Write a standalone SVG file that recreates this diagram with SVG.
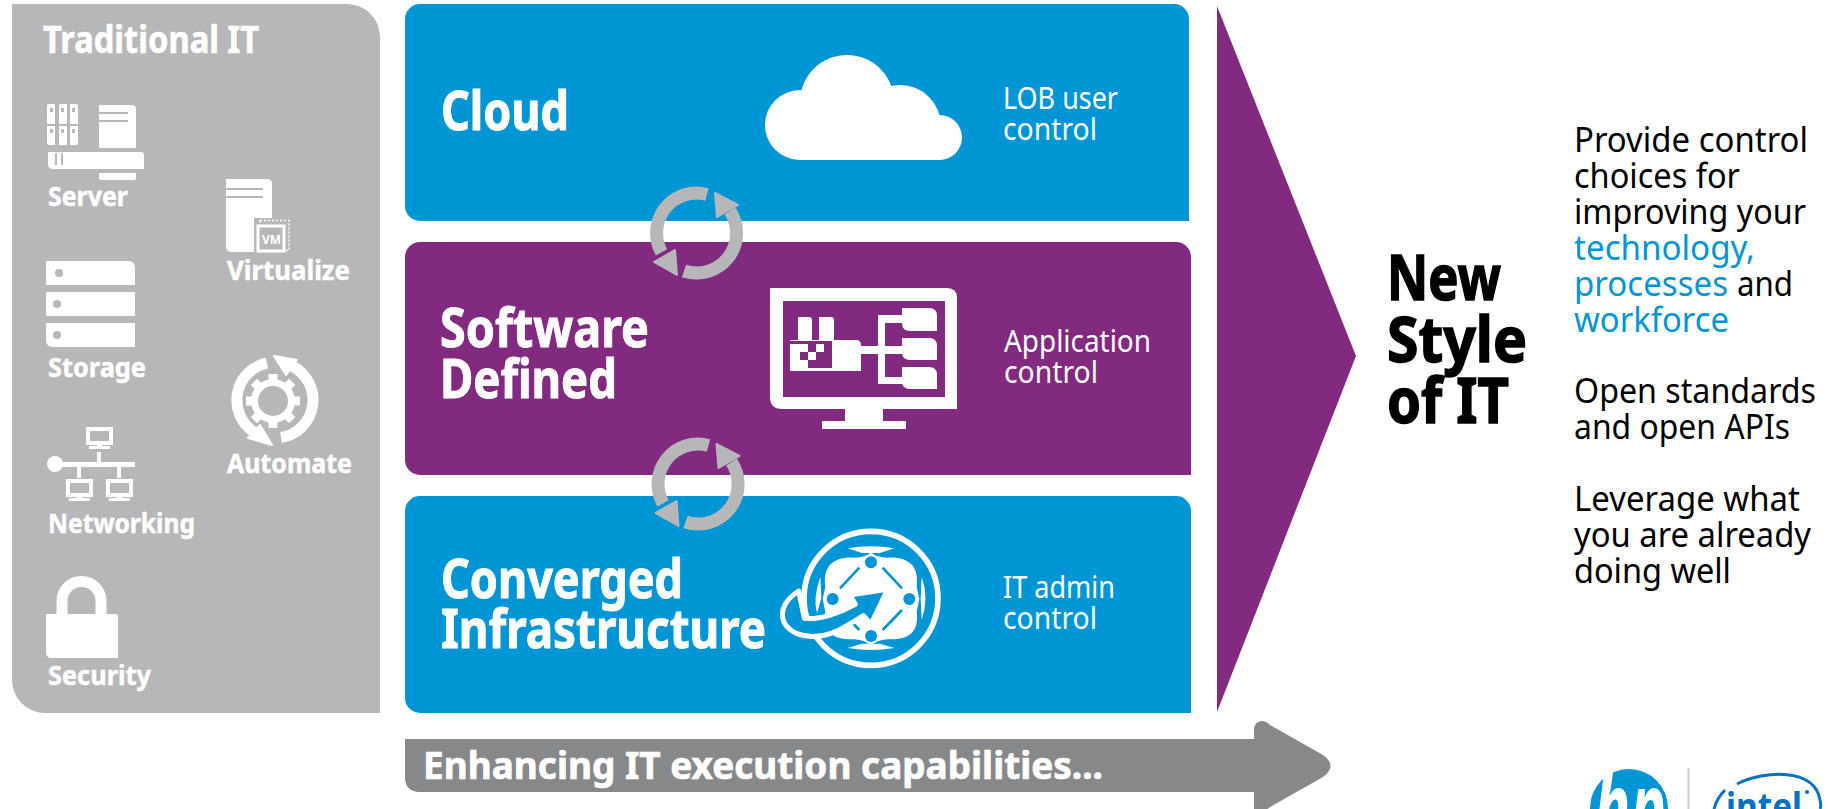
<svg xmlns="http://www.w3.org/2000/svg" xmlns:xlink="http://www.w3.org/1999/xlink" width="1828" height="809" viewBox="0 0 1828 809">
<style>
text{font-family:"Noto Sans","Open Sans","Liberation Sans",sans-serif}
.w{fill:#fff}.g{fill:#b7b7b9}.p{fill:#822980}.b{fill:#0096d6}
.lab{fill:#fff;font-weight:700;font-size:27px;stroke:#fff;stroke-width:.5}
.big{fill:#fff;font-weight:700;font-size:53px;stroke:#fff;stroke-width:1}
.ctl{fill:#fff;font-size:31px}
.ns{fill:#000;font-weight:700;font-size:62px;stroke:#000;stroke-width:1.500}
.rt{fill:#000;font-size:35px}
.bt{fill:#0096d6}
.ref{fill:none;stroke:#b7b7b9;stroke-width:13}
</style>
<defs>
<clipPath id="cloudclip"><rect x="760" y="50" width="210" height="110"/></clipPath>
<g id="mon">
<rect x="2" y="2" width="23" height="14" fill="none" stroke="#fff" stroke-width="4"/>
<rect x="11" y="16" width="5" height="3" fill="#fff"/>
<rect x="3" y="19" width="21" height="3" fill="#fff"/>
</g>
<g id="refresh">
<path class="ref" d="M707 194.400A40 40 0 0 0 661.500 252.300"/>
<path class="ref" d="M684 271A40 40 0 0 0 730 211"/>
<path class="g" d="M654 262 675 250 677 275Z" stroke="#b7b7b9" stroke-width="2" stroke-linejoin="round"/>
<path class="g" d="M715 193 738 205 717 217Z" stroke="#b7b7b9" stroke-width="2" stroke-linejoin="round"/>
</g>
</defs>

<g id="traditional-it">
<path class="g" d="M12 4H347A33 33 0 0 1 380 37V713H45A33 33 0 0 1 12 680Z"/>
<text class="w" x="43" y="53" font-size="37" font-weight="700" stroke="#fff" stroke-width=".6" textLength="216" lengthAdjust="spacingAndGlyphs">Traditional IT</text>
</g>

<g id="server">
<rect class="w" x="47" y="104" width="31" height="41" rx="2"/>
<path class="g" d="M55 104h4v41h-4zM67 104h3v41h-3zM47 124h31v2H47zM50 108h3v4h-3zM61 108h3v4h-3zM72 108h3v4h-3zM50 129h3v4h-3zM61 129h3v4h-3zM72 129h3v4h-3z"/>
<path class="w" d="M99 105H132Q136 105 136 109V148H99Z"/>
<path class="g" d="M99 112h29v2H99zM99 120h29v2H99z"/>
<path class="w" d="M48 152H141Q144 152 144 155V169H53Q48 169 48 164Z"/>
<path class="g" d="M55 153h2v12h-2zM61 153h2v12h-2z"/>
<path class="w" d="M99 173H136V178Q136 180 134 180H101Q99 180 99 178Z"/>
<text class="lab" x="48" y="206" textLength="80" lengthAdjust="spacingAndGlyphs">Server</text>
</g>

<g id="virtualize">
<path class="w" d="M226 179H267Q272 179 272 184V252H232Q226 252 226 246Z"/>
<path class="g" d="M226 188h37v2H226zM226 196h37v2H226z"/>
<rect class="g" x="254" y="218" width="38" height="35"/>
<rect x="260" y="220.500" width="29" height="30" fill="none" stroke="#fff" stroke-width="1.500" stroke-dasharray="2 2"/>
<rect x="258" y="226" width="26" height="25" class="g" stroke="#fff" stroke-width="3"/>
<text class="w" x="262" y="244" font-size="13" font-weight="700" textLength="19" lengthAdjust="spacingAndGlyphs">VM</text>
<text class="lab" x="227" y="280" textLength="123" lengthAdjust="spacingAndGlyphs">Virtualize</text>
</g>

<g id="storage">
<path class="w" d="M46 261H128Q135 261 135 268V285H46Z"/>
<rect class="w" x="46" y="292" width="89" height="24"/>
<path class="w" d="M46 323H135V347H53Q46 347 46 340Z"/>
<circle class="g" cx="59" cy="273" r="4"/><circle class="g" cx="57" cy="304" r="4"/><circle class="g" cx="57" cy="335" r="4"/>
<text class="lab" x="48" y="377" textLength="98" lengthAdjust="spacingAndGlyphs">Storage</text>
</g>

<g id="automate">
<circle class="w" cx="273" cy="401" r="22"/>
<g class="w">
<rect x="268.500" y="374" width="9" height="54"/>
<rect x="268.500" y="374" width="9" height="54" transform="rotate(45 273 401)"/>
<rect x="268.500" y="374" width="9" height="54" transform="rotate(90 273 401)"/>
<rect x="268.500" y="374" width="9" height="54" transform="rotate(135 273 401)"/>
</g>
<circle class="g" cx="273" cy="401" r="15"/>
<path fill="none" stroke="#fff" stroke-width="11" d="M267 363A38 38 0 0 0 254 432"/>
<path fill="none" stroke="#fff" stroke-width="11" d="M281 437.500A38 38 0 0 0 292 366"/>
<path class="w" d="M248 438 272 445 260 425Z" stroke="#fff" stroke-width="2" stroke-linejoin="round"/>
<path class="w" d="M274 356 297 360 286 375Z" stroke="#fff" stroke-width="2" stroke-linejoin="round"/>
<text class="lab" x="227" y="473" textLength="125" lengthAdjust="spacingAndGlyphs">Automate</text>
</g>

<g id="networking">
<use xlink:href="#mon" href="#mon" x="86" y="427"/>
<use xlink:href="#mon" href="#mon" x="66" y="479"/>
<use xlink:href="#mon" href="#mon" x="106" y="479"/>
<circle class="w" cx="55" cy="464" r="8"/>
<path class="w" d="M55 462H135V467H55zM97 452h4v10h-4zM77 467h4v11h-4zM117 467h4v11h-4z"/>
<text class="lab" x="48" y="533" textLength="147" lengthAdjust="spacingAndGlyphs">Networking</text>
</g>

<g id="security">
<path fill="none" stroke="#fff" stroke-width="11" d="M62 616V601A19.500 19.500 0 0 1 101 601V616"/>
<path class="w" d="M46 614H115Q118 614 118 617V658H52Q46 658 46 652Z"/>
<text class="lab" x="48" y="685" textLength="103" lengthAdjust="spacingAndGlyphs">Security</text>
</g>

<g id="cloud-layer">
<path class="b" d="M420 4H1174A15 15 0 0 1 1189 19V221H420A15 15 0 0 1 405 206V19A15 15 0 0 1 420 4Z"/>
<g clip-path="url(#cloudclip)">
<circle class="w" cx="847" cy="102" r="47"/><circle class="w" cx="800" cy="125" r="35"/><circle class="w" cx="900" cy="126" r="41"/><circle class="w" cx="939.500" cy="137.500" r="22.500"/>
<rect class="w" x="800" y="120" width="140" height="40"/>
</g>
<text class="big" x="441" y="130" textLength="128" lengthAdjust="spacingAndGlyphs">Cloud</text>
<text class="ctl" x="1003" y="109" textLength="115" lengthAdjust="spacingAndGlyphs">LOB user</text>
<text class="ctl" x="1003" y="140" textLength="94" lengthAdjust="spacingAndGlyphs">control</text>
</g>

<g id="software-defined-layer">
<path class="p" d="M420 242H1176A15 15 0 0 1 1191 257V475H420A15 15 0 0 1 405 460V257A15 15 0 0 1 420 242Z"/>
<path class="w" d="M770 288H947Q957 288 957 298V409H782Q770 409 770 397Z"/>
<rect class="w" x="845" y="408" width="38" height="14"/><rect class="w" x="822" y="421" width="84" height="8"/>
<rect class="p" x="783" y="301" width="162" height="96"/>
<path class="w" d="M798 317H809Q812 317 812 320V340H819V317H831Q834 317 834 320V340H856Q861 340 861 345V371H790V340H798Z"/>
<path class="p" d="M790 341h42v3H790zM808 344h8v8h-8zM800 352h8v8h-8zM824 344h8v8h-8zM816 352h16v8h-16zM808 360h24v8h-24z"/>
<path class="w" d="M861 346H878V315H905V323H885V346H905V354H885V377H905V384H878V354H861Z"/>
<path class="w" d="M902 308H929Q937 308 937 316V331H910Q902 331 902 323ZM902 338H929Q937 338 937 346V360H910Q902 360 902 352ZM902 367H929Q937 367 937 375V389H910Q902 389 902 381Z"/>
<text class="big" x="440" y="347" textLength="209" lengthAdjust="spacingAndGlyphs">Software</text>
<text class="big" x="440" y="398" textLength="177" lengthAdjust="spacingAndGlyphs">Defined</text>
<text class="ctl" x="1004" y="352" textLength="147" lengthAdjust="spacingAndGlyphs">Application</text>
<text class="ctl" x="1004" y="383" textLength="94" lengthAdjust="spacingAndGlyphs">control</text>
</g>

<g id="converged-layer">
<path class="b" d="M420 496H1176A15 15 0 0 1 1191 511V713H420A15 15 0 0 1 405 698V511A15 15 0 0 1 420 496Z"/>
<g transform="translate(776 525) scale(.3333)">
<circle cx="285" cy="220" r="201" fill="none" stroke="#fff" stroke-width="17"/>
<path class="w" d="M285 82Q300 98 335 98C400 95 430 125 422 185L430 222 422 260C430 320 400 345 335 343Q300 345 285 363Q270 345 235 343C170 345 140 320 148 260L140 222 148 185C140 125 170 95 235 98Q270 98 285 82Z"/>
<path class="w" d="M215 70Q285 58 355 70L312 84H258ZM215 369Q285 381 355 369L312 356H258ZM133 155Q110 220 123 265L136 220ZM437 155Q460 220 437 285L434 220Z"/>
<path fill="none" stroke="#0096d6" stroke-width="8" d="M192 190 250 128M320 128 378 190M378 255 320 315M250 315 192 255"/>
<g fill="#0096d6"><circle cx="285" cy="112" r="18"/><circle cx="170" cy="222" r="18"/><circle cx="400" cy="222" r="18"/><circle cx="285" cy="333" r="18"/></g>
<path fill="#0096d6" stroke="#fff" stroke-width="15" stroke-linejoin="round" d="M68 198C15 232 8 275 33 305 65 342 132 340 178 320 210 305 240 285 262 272L285 297 335 193 222 210 238 238C190 265 130 285 85 280Z"/>
</g>
<text class="big" x="441" y="598" textLength="242" lengthAdjust="spacingAndGlyphs">Converged</text>
<text class="big" x="441" y="648" textLength="325" lengthAdjust="spacingAndGlyphs">Infrastructure</text>
<text class="ctl" x="1003" y="598" textLength="112" lengthAdjust="spacingAndGlyphs">IT admin</text>
<text class="ctl" x="1003" y="629" textLength="94" lengthAdjust="spacingAndGlyphs">control</text>
</g>

<g id="connectors">
<use xlink:href="#refresh" href="#refresh"/>
<use xlink:href="#refresh" href="#refresh" x="1.500" y="251"/>
</g>

<g id="new-style">
<path class="p" d="M1217 6 1356 356 1217 712Z"/>
<text class="ns" x="1387" y="300" textLength="114" lengthAdjust="spacingAndGlyphs">New</text>
<text class="ns" x="1387" y="362" textLength="140" lengthAdjust="spacingAndGlyphs">Style</text>
<text class="ns" x="1387" y="423" textLength="122" lengthAdjust="spacingAndGlyphs">of IT</text>
</g>

<g id="capabilities-arrow">
<path fill="#87888a" d="M405 739H1254V731Q1254 721 1262 721 1266 721 1270 725L1323 755C1333 762 1333 770 1323 777L1270 807Q1266 811 1262 811H1254V792H420Q405 792 405 777Z"/>
<text class="w" x="423" y="779" font-size="38" font-weight="700" stroke="#fff" stroke-width=".7" textLength="680" lengthAdjust="spacingAndGlyphs">Enhancing IT execution capabilities...</text>
</g>

<g id="benefits">
<text class="rt" x="1574" y="152" textLength="234" lengthAdjust="spacingAndGlyphs">Provide control</text>
<text class="rt" x="1574" y="188" textLength="166" lengthAdjust="spacingAndGlyphs">choices for</text>
<text class="rt" x="1574" y="224" textLength="232" lengthAdjust="spacingAndGlyphs">improving your</text>
<text class="rt bt" x="1574" y="260" textLength="181" lengthAdjust="spacingAndGlyphs">technology,</text>
<text class="rt bt" x="1574" y="296" textLength="154" lengthAdjust="spacingAndGlyphs">processes</text>
<text class="rt" x="1737" y="296" textLength="56" lengthAdjust="spacingAndGlyphs">and</text>
<text class="rt bt" x="1574" y="332" textLength="155" lengthAdjust="spacingAndGlyphs">workforce</text>
<text class="rt" x="1574" y="403" textLength="242" lengthAdjust="spacingAndGlyphs">Open standards</text>
<text class="rt" x="1574" y="439" textLength="216" lengthAdjust="spacingAndGlyphs">and open APIs</text>
<text class="rt" x="1574" y="511" textLength="226" lengthAdjust="spacingAndGlyphs">Leverage what</text>
<text class="rt" x="1574" y="547" textLength="237" lengthAdjust="spacingAndGlyphs">you are already</text>
<text class="rt" x="1574" y="583" textLength="157" lengthAdjust="spacingAndGlyphs">doing well</text>
</g>

<g id="logos">
<circle class="b" cx="1629" cy="808" r="39"/>
<text class="w" x="1594" y="844" font-size="100" font-weight="700" font-style="italic" textLength="72" lengthAdjust="spacingAndGlyphs">hp</text>
<rect x="1687.500" y="768" width="2" height="41" fill="#d0d0d0"/>
<path fill="none" stroke="#0071c5" stroke-width="3" d="M1737 784C1765 770 1815 768 1820 800 1821 804 1821 807 1820 809M1714 809C1716 801 1720 795 1725 790"/>
<text x="1726" y="820" font-size="38" font-weight="700" fill="#0071c5" textLength="76" lengthAdjust="spacingAndGlyphs">intel</text>
<circle cx="1807" cy="792" r="2" fill="#0071c5"/>
</g>
</svg>
